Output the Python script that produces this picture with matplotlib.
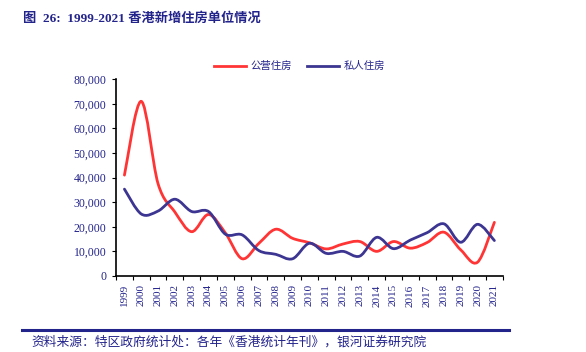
import numpy as np
import matplotlib
matplotlib.use('Agg')
import matplotlib.pyplot as plt
from matplotlib.path import Path
from matplotlib.patches import PathPatch
from matplotlib.lines import Line2D

years = [str(y) for y in range(1999, 2022)]
public_housing = [41000, 71000, 37500, 26000, 18000, 25000, 17500, 7000, 13300, 19000, 15300,
                  13500, 11000, 13000, 14000, 10000, 14000, 11300, 13600, 17800, 10600, 5600, 21800]
private_housing = [35300, 25200, 26400, 31200, 26200, 26200, 17000, 16700, 10300, 8800, 7000,
                   13300, 9200, 10000, 8100, 15700, 11100, 14600, 17600, 21200, 13700, 21000, 14400]
series_names = ['公营住房', '私人住房']

navy = '#23238c'
red = '#ff3535'
blue = '#3c3591'
serif_cjk = ['Liberation Serif', 'Noto Sans CJK SC']
plt.rcParams['font.family'] = serif_cjk


def smooth_path(xs, ys):
    # excel-style smoothed line: cubic bezier with catmull-rom control points
    xs = np.asarray(xs, float)
    ys = np.asarray(ys, float)
    n = len(xs)
    verts = [(xs[0], ys[0])]
    codes = [Path.MOVETO]
    for i in range(n - 1):
        p0 = np.array([xs[max(i - 1, 0)], ys[max(i - 1, 0)]])
        p1 = np.array([xs[i], ys[i]])
        p2 = np.array([xs[i + 1], ys[i + 1]])
        p3 = np.array([xs[min(i + 2, n - 1)], ys[min(i + 2, n - 1)]])
        c1 = p1 + (p2 - p0) / 6
        c2 = p2 - (p3 - p1) / 6
        verts += [tuple(c1), tuple(c2), tuple(p2)]
        codes += [Path.CURVE4] * 3
    return Path(verts, codes)


fig = plt.figure(figsize=(5.86, 3.52), dpi=100)
ax = fig.add_axes([0.198, 0.216, 0.66, 0.559])

x = np.arange(len(years))
for vals, c in [(public_housing, red), (private_housing, blue)]:
    ax.add_patch(PathPatch(smooth_path(x, vals), facecolor='none', edgecolor=c, lw=2.0,
                           capstyle='round', joinstyle='round'))

ax.set_xlim(-0.5, len(years) - 0.5)
ax.set_ylim(0, 80000)
ax.set_yticks(np.arange(0, 80001, 10000))
ax.set_yticklabels(['{:,}'.format(v) for v in range(0, 80001, 10000)], fontsize=8.5, color=navy)
ax.set_xticks(np.arange(-0.5, len(years), 1))
ax.set_xticklabels([])
ax.set_xticks(x, minor=True)
ax.set_xticklabels(years, minor=True)
ax.tick_params(axis='x', which='minor', length=0, pad=6, labelrotation=90,
               labelsize=8, labelcolor=navy)
ax.tick_params(axis='x', which='major', length=3, direction='out', color='black')
ax.tick_params(axis='y', length=3, direction='out', color='black', pad=4)
for s in ['top', 'right']:
    ax.spines[s].set_visible(False)
for s in ['left', 'bottom']:
    ax.spines[s].set_color('black')
    ax.spines[s].set_linewidth(1.2)

handles = [Line2D([], [], color=red, lw=2.0), Line2D([], [], color=blue, lw=2.0)]
fig.legend(handles, series_names, loc='center', bbox_to_anchor=(0.511, 0.812), ncol=2,
           frameon=False, handlelength=3.1, handletextpad=0.4, columnspacing=1.45,
           prop={'family': ['Noto Sans CJK SC'], 'size': 7.5}, labelcolor=navy)

fig.text(0.04, 0.949, '图  26:  1999-2021 香港新增住房单位情况', fontsize=9.5, fontweight='bold',
         color=navy, va='center', ha='left', family=serif_cjk)

fig.add_artist(Line2D([0.037, 0.869], [0.062, 0.062], color=navy, lw=2.2))
fig.text(0.054, 0.029, '资料来源：特区政府统计处：各年《香港统计年刊》，银河证券研究院', fontsize=9.2,
         color=navy, va='center', ha='left', style='italic', family=['Noto Sans CJK SC'])

fig.savefig('out.png', dpi=100)
